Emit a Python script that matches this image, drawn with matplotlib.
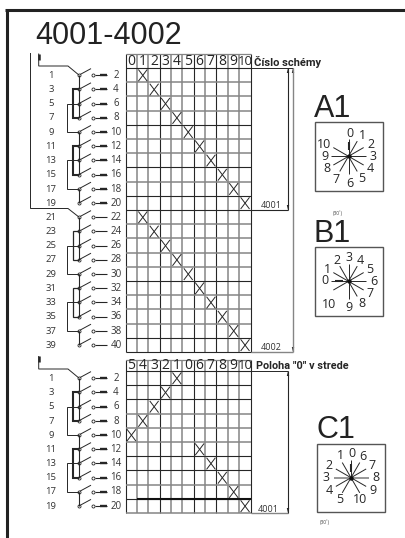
"""4001-4002 switching diagram, drawn on a pixel-sized axes"""
import numpy as np, matplotlib
matplotlib.use('Agg')
import matplotlib.pyplot as plt

plt.rcParams['font.family'] = ['Open Sans', 'DejaVu Sans']

# data
title = '4001-4002'
top_header = ['0', '1', '2', '3', '4', '5', '6', '7', '8', '9', '10']
bottom_header = ['5', '4', '3', '2', '1', '0', '6', '7', '8', '9', '10']
top_cols = [1, 2, 3, 4, 5, 6, 7, 8, 9, 10, 1, 2, 3, 4, 5, 6, 7, 8, 9, 10]
bottom_cols = [4, 3, 2, 1, 0, 6, 7, 8, 9, 10]

# switch stages: node stems between rows, and the two bridges of a 10 row block
stems = [(0, 1), (1, 2), (2, 3), (4, 5), (5, 6), (6, 7), (8, 9)]
inner_bridges = [(1, 3), (5, 7)]
outer_bridges = [(2, 4), (6, 8)]

# dials: label, clock angle of label, radius of label
a1_labels = ['0', '1', '2', '3', '4', '5', '6', '7', '8', '9', '10']
a1_angles = [3, 33, 63, 90, 120, 150, 178, 208, 240, 270, 297]
a1_radii = [23, 25, 25, 25, 25, 26, 27, 26, 25, 24, 27]
a1_spokes = [0, 30, 60, 90, 120, 150, 180, 210, 240, 270, 300]

b1_labels = ['0', '1', '2', '3', '4', '5', '6', '7', '8', '9', '10']
b1_angles = [272, 300, 330, 0, 30, 60, 90, 120, 150, 178, 220]
b1_radii = [24, 24, 24, 24, 24, 24, 25, 25, 26, 26, 30]
b1_spokes = [270, 300, 330, 0, 30, 60, 90, 120, 150, 180, 240]

c1_labels = ['0', '1', '2', '3', '4', '5', '6', '7', '8', '9', '10']
c1_angles = [2, 335, 300, 270, 240, 208, 30, 60, 90, 120, 158]
c1_radii = [24, 24, 25, 25, 25, 25, 24, 24, 25, 25, 24]
c1_spokes = [0, 330, 300, 270, 240, 210, 30, 60, 90, 120, 150]

DARK = '#262626'
GRAY = '#858585'

# grid shading as it comes out of the raster: 1 = gray line
top_row_gray = [0, 1, 1, 1, 0, 1, 1, 0, 1, 0, 0, 1, 1, 1, 1, 0, 1, 1, 1, 0, 0]
bottom_row_gray = [0, 0, 0, 1, 1, 1, 0, 0, 1, 0, 1]
col_gray = [0, 1, 1, 0, 1, 1, 0, 1, 0, 1, 1, 0]

X0, COLW = 125.5, 125 / 11
ROWH = 14.2

fig = plt.figure(figsize=(4.05, 5.38), dpi=100)
ax = fig.add_axes([0, 0, 1, 1])
ax.set_xlim(0, 405); ax.set_ylim(538, 0); ax.axis('off')


def line(xs, ys, c=DARK, lw=0.7):
    ax.plot(xs, ys, color=c, lw=lw, solid_capstyle='butt', solid_joinstyle='miter')


def grid(y_head, y0, cols, header, row_gray):
    nrows = len(cols)
    for i, g in enumerate(col_gray):
        x = X0 + i * COLW
        line([x, x], [y_head, y0 + nrows * ROWH], GRAY if g else DARK, 1.1 if g else 0.8)
    line([X0, X0 + 11 * COLW], [y_head, y_head], GRAY, 0.9)
    for i, g in enumerate(row_gray):
        y = y0 + i * ROWH
        line([X0, X0 + 11 * COLW], [y, y], GRAY if g else DARK, 1.1 if g else 0.8)
    for i, h in enumerate(header):
        ax.text(X0 + (i + .5) * COLW, (y_head + y0) / 2 + .3, h, fontsize=10 if h != '10' else 9.5,
                ha='center', va='center', color=DARK)
    for r, c in enumerate(cols):
        xa, xb = X0 + c * COLW + 1.5, X0 + (c + 1) * COLW - 1
        ya, yb = y0 + r * ROWH + 1.5, y0 + (r + 1) * ROWH - 1
        line([xa, xb], [ya, yb], DARK, 0.7)
        line([xa, xb], [yb, ya], DARK, 0.7)


def switches(y0, first, arrows, thick_bridge):
    # one block of 10 switch rows, numbered from first
    yc = [y0 + (r + .5) * ROWH for r in range(10)]
    for r, y in enumerate(yc):
        n = first + 2 * r
        ax.text(51, y + .3, str(n), fontsize=6.8, ha='center', va='center', color='#333333')
        ax.text(116, y + .3, str(n + 1), fontsize=7, ha='center', va='center', color='#333333')
        line([79, 91], [y, y - 6.5], DARK, 0.7)
        line([94.5, 107], [y, y], DARK, 0.8)
        ax.plot([79, 93], [y, y], 'o', ms=2.2, mfc='white', mec=DARK, mew=0.6)
        if arrows:
            ax.plot([100, 107], [y, y], color=DARK, lw=1.7, solid_capstyle='butt')
    for a, b in stems:
        line([79, 79], [yc[a], yc[b]], DARK, 0.8)
    for a, b in inner_bridges:
        line([79, 72.5, 72.5, 79], [yc[a], yc[a], yc[b], yc[b]], DARK, thick_bridge)
    for a, b in outer_bridges:
        line([79, 67, 67, 79], [yc[a], yc[a], yc[b], yc[b]], DARK, 0.7)
    return yc


def dial(cx, cy, x0, y0, labels, angles, radii, spokes, size=68.4, thick=None):
    ax.add_patch(plt.Rectangle((x0, y0), size, size, fill=False, ec='#555555', lw=1.0))
    for s in spokes:
        a = np.radians(s)
        g = thick is not None and s % 180 == thick
        line([cx, cx + 17.5 * np.sin(a)], [cy, cy - 17.5 * np.cos(a)],
             GRAY if g else DARK, 1.2 if g else 0.7)
    a = np.radians(spokes[0])
    line([cx + 6 * np.sin(a), cx + 14 * np.sin(a)], [cy - 6 * np.cos(a), cy - 14 * np.cos(a)], DARK, 1.5)
    ax.plot([cx], [cy], 'o', ms=3.2, color='#111111', mew=0)
    for t, ang, r in zip(labels, angles, radii):
        a = np.radians(ang)
        ax.text(cx + r * np.sin(a), cy - r * np.cos(a), t, fontsize=9, ha='center', va='center', color=DARK)


# frame, only top and left are there
line([6.5, 6.5], [9.5, 538], '#222222', 2.2)
line([5, 405], [9.5, 9.5], '#222222', 2.2)

ax.text(35.5, 44, title, fontsize=22, family=['Liberation Sans'], ha='left', va='baseline', color='#222222')

# tables
grid(53.5, 68, top_cols, top_header, top_row_gray)
grid(359.5, 371, bottom_cols, bottom_header, bottom_row_gray)
line([X0 + COLW, X0 + 11 * COLW], [499, 499], '#111111', 1.5)

# no narrow bold installed, Roboto is the closest in width
ax.text(253.5, 66, 'Číslo schémy', fontsize=8, fontweight='bold', family=['Roboto'], ha='left', va='baseline', color=DARK)
ax.text(256, 369, 'Poloha "0" v strede', fontsize=7.8, fontweight='bold', family=['Roboto'], ha='left', va='baseline', color=DARK)

# switch blocks
yc1 = switches(68, 1, True, 1.5)
yc2 = switches(68 + 10 * ROWH, 21, False, 0.9)
yc3 = switches(371, 1, True, 1.5)

# feeds
for ytop, ymid, ynode in [(53.5, 66, yc1[0]), (356, 369, yc3[0])]:
    line([38.7, 38.7, 68, 79], [ytop, ymid, ymid, ynode], DARK, 0.7)
    line([38.7, 38.7], [ytop, ytop + 6], DARK, 1.8)
line([30.5, 30.5, 68, 79], [53, 208.5, 208.5, yc2[0]], DARK, 0.7)

# dimension lines
y_4001, y_4002 = 68 + 10 * ROWH, 68 + 20 * ROWH
line([X0 + 11 * COLW, 293], [68, 68], DARK, 0.7)
line([X0 + 11 * COLW, 288], [y_4001, y_4001], DARK, 0.8)
line([X0 + 11 * COLW, 293], [y_4002, y_4002], GRAY, 1.0)
line([288, 288], [68, y_4001], DARK, 0.8)
line([293, 293], [68, y_4002], GRAY, 1.0)
y_b0, y_b1 = 371, 371 + 10 * ROWH
line([X0 + 11 * COLW, 288], [y_b0, y_b0], DARK, 0.7)
line([X0 + 11 * COLW, 288], [y_b1, y_b1], GRAY, 1.0)
line([288, 288], [y_b0, y_b1], DARK, 0.8)
for x, y, d in [(288, 68, 1), (293, 68, 1), (288, y_4001, -1), (293, y_4002, -1), (288, y_b0, 1), (288, y_b1, -1)]:
    ax.fill([x - 1.2, x + 1.2, x], [y + d * 5, y + d * 5, y], color=DARK, lw=0)
ax.text(271, 205.5, '4001', fontsize=6.5, ha='center', va='center', color='#333333')
ax.text(271.5, 347.5, '4002', fontsize=6.5, ha='center', va='center', color='#333333')
ax.text(268, 509, '4001', fontsize=6.5, ha='center', va='center', color='#333333')

# dials
sans = ['Liberation Sans']
ax.text(314, 117, 'A1', fontsize=22, family=sans, ha='left', va='baseline', color='#222222')
ax.text(314, 241.7, 'B1', fontsize=22, family=sans, ha='left', va='baseline', color='#222222')
ax.text(316, 438, 'C1', fontsize=22, family=sans, ha='left', va='baseline', color='#222222')
dial(348.5, 156.3, 314.7, 122.3, a1_labels, a1_angles, a1_radii, a1_spokes)
dial(348.5, 281.3, 314.7, 247.3, b1_labels, b1_angles, b1_radii, b1_spokes)
dial(351, 477.7, 316.7, 443.7, c1_labels, c1_angles, c1_radii, c1_spokes, thick=90)
ax.text(338, 213, '(30˚)', fontsize=3.5, ha='center', va='center', color='#444444')
ax.text(325, 522, '(30˚)', fontsize=3.5, ha='center', va='center', color='#444444')

fig.savefig('out.png', dpi=100)
